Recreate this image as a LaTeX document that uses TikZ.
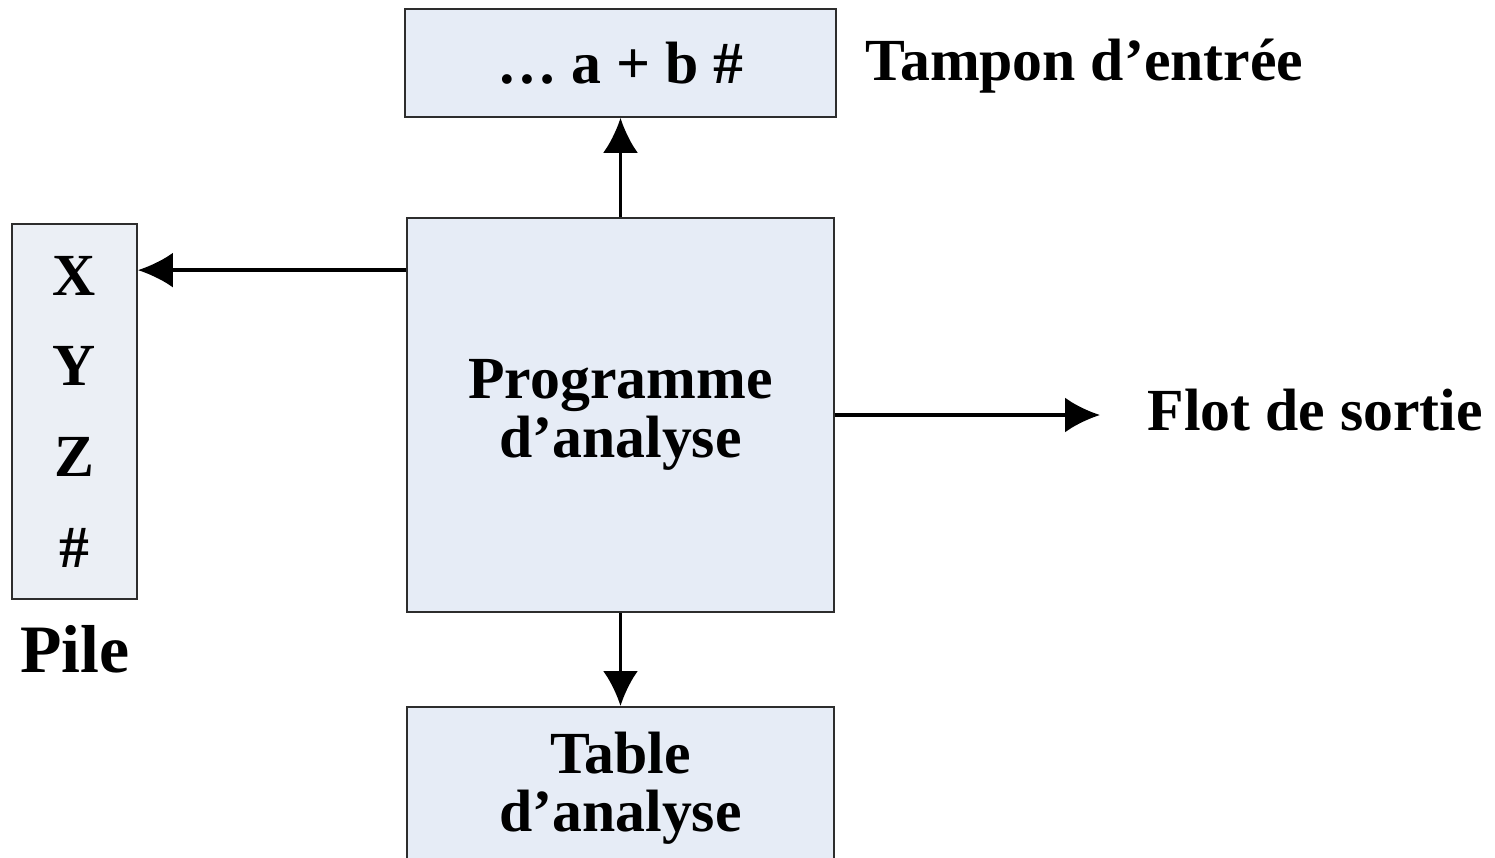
\documentclass[tikz,border=0pt]{standalone}
\usepackage{fontspec}
\setmainfont{Liberation Serif}
\usetikzlibrary{arrows.meta}

\definecolor{boxblue}{RGB}{230,236,246}
\definecolor{pileblue}{RGB}{235,239,245}
\definecolor{edgegrey}{RGB}{45,45,45}

\tikzset{
    block/.style={draw=edgegrey, fill=boxblue, line width=0.5pt, inner sep=0pt,
        align=center, font=\bfseries\fontsize{17}{16.6}\selectfont},
    lbltext/.style={inner sep=0pt, font=\bfseries\fontsize{17}{16.6}\selectfont},
    flow/.style={-{Latex[length=3.5mm, width=3.5mm]}, line width=1pt}
}

\begin{document}
\begin{tikzpicture}
    \useasboundingbox (0, 0) rectangle (14.95, -8.57);

    % input buffer
    \node [block, minimum width=4.31cm, minimum height=1.08cm] (input) at (6.205, -0.63) {… a + b \#};
    \node [lbltext, anchor=base west] (inlbl) at (8.65, -0.80) {Tampon d’entrée};

    % parser
    \node [block, minimum width=4.27cm, minimum height=3.94cm] (main) at (6.205, -4.15) {Programme\\d’analyse};

    % stack
    \node [block, fill=pileblue, minimum width=1.25cm, minimum height=3.75cm,
        font=\bfseries\fontsize{17}{25.8}\selectfont] (pile) at (0.745, -4.115) {X\\Y\\Z\\\#};
    \node [lbltext, anchor=base, font=\bfseries\fontsize{19.3}{20}\selectfont] (pilelbl) at (0.75, -6.72) {Pile};

    % parsing table
    \node [block, anchor=north, minimum width=4.27cm, minimum height=1.62cm] (table) at (6.205, -7.06) {Table\\d’analyse};

    % output
    \node [lbltext, anchor=base west] (flot) at (11.47, -4.30) {Flot de sortie};

    \draw [flow] (main.north) -- (input.south);
    \draw [flow] ([yshift=-0.53cm]main.north west) coordinate (s) -- (s -| pile.east);
    \draw [flow] (main.south) -- (table.north);
    \draw [flow, shorten >=0.47cm] (main.east) -- (main.east -| flot.west);
\end{tikzpicture}
\end{document}
